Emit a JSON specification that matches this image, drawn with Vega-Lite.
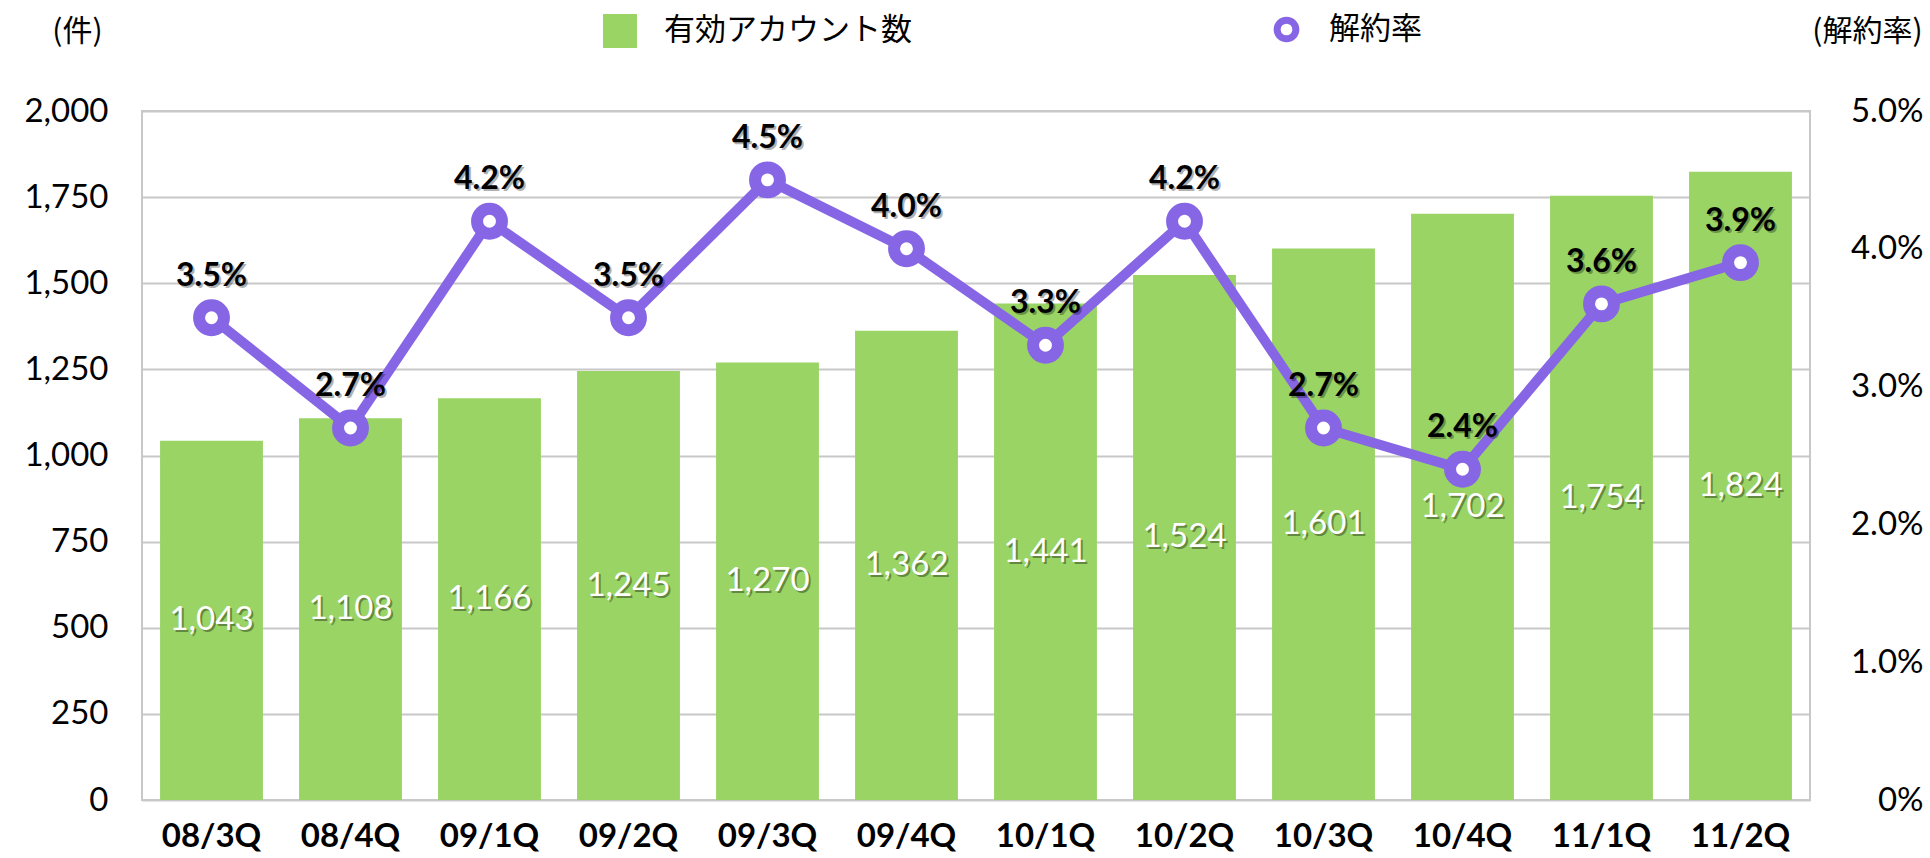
{
  "$schema": "https://vega.github.io/schema/vega-lite/v6.json",
  "autosize": {"type": "none"},
  "width": 1668,
  "height": 689,
  "padding": {"left": 142, "top": 111, "right": 120, "bottom": 58},
  "background": "white",
  "config": {
    "view": {"stroke": "#C8C8C8", "strokeWidth": 2},
    "font": "Lato",
    "axis": {"labelFont": "Lato", "labelColor": "black", "titleFont": "Noto Sans CJK JP", "titleColor": "black", "titleFontWeight": "normal"},
    "legend": {"labelFont": "Noto Sans CJK JP", "labelColor": "black", "padding": 0, "labelLimit": 600}
  },
  "data": {
    "values": [
      {"q": "08/3Q", "accounts": 1043, "rate": 0.035},
      {"q": "08/4Q", "accounts": 1108, "rate": 0.027},
      {"q": "09/1Q", "accounts": 1166, "rate": 0.042},
      {"q": "09/2Q", "accounts": 1245, "rate": 0.035},
      {"q": "09/3Q", "accounts": 1270, "rate": 0.045},
      {"q": "09/4Q", "accounts": 1362, "rate": 0.040},
      {"q": "10/1Q", "accounts": 1441, "rate": 0.033},
      {"q": "10/2Q", "accounts": 1524, "rate": 0.042},
      {"q": "10/3Q", "accounts": 1601, "rate": 0.027},
      {"q": "10/4Q", "accounts": 1702, "rate": 0.024},
      {"q": "11/1Q", "accounts": 1754, "rate": 0.036},
      {"q": "11/2Q", "accounts": 1824, "rate": 0.039}
    ]
  },
  "encoding": {
    "x": {
      "field": "q", "type": "nominal", "sort": null,
      "scale": {"paddingInner": 0.26, "paddingOuter": 0.13},
      "axis": {"title": null, "labelAngle": 0, "labelFontSize": 33, "labelFontWeight": "bold", "labelPadding": 20, "domain": false, "ticks": false, "grid": false}
    }
  },
  "layer": [
    {
      "mark": {"type": "bar"},
      "encoding": {
        "y": {
          "field": "accounts", "type": "quantitative",
          "scale": {"domain": [0, 2000], "nice": false},
          "axis": {
            "values": [0, 250, 500, 750, 1000, 1250, 1500, 1750, 2000],
            "format": ",d", "labelFontSize": 33, "labelPadding": 34,
            "domain": false, "ticks": false,
            "grid": true, "gridColor": "#C8C8C8", "gridWidth": 2,
            "title": "(件)", "titleAngle": 0, "titleFontSize": 30,
            "titleX": -65, "titleY": -80, "titleAlign": "center", "titleBaseline": "middle"
          }
        },
        "color": {
          "datum": "有効アカウント数",
          "scale": {"range": ["#9AD464"]},
          "legend": {
            "orient": "none", "legendX": 461, "legendY": -97, "title": null,
            "symbolType": "square", "symbolSize": 1156, "symbolStrokeWidth": 0,
            "labelFontSize": 31, "labelOffset": 27, "labelLimit": 600
          }
        }
      }
    },
    {
      "mark": {"type": "text", "color": "black", "opacity": 0.35, "fontSize": 33, "dx": 2, "dy": 2, "baseline": "middle"},
      "encoding": {
        "y": {"field": "accounts", "type": "quantitative", "scale": {"domain": [0, 4000], "nice": false}, "axis": null},
        "text": {"field": "accounts", "type": "quantitative", "format": ",d"}
      }
    },
    {
      "mark": {"type": "text", "color": "white", "fontSize": 33, "baseline": "middle"},
      "encoding": {
        "y": {"field": "accounts", "type": "quantitative", "scale": {"domain": [0, 4000], "nice": false}, "axis": null},
        "text": {"field": "accounts", "type": "quantitative", "format": ",d"}
      }
    },
    {
      "mark": {"type": "line", "strokeWidth": 10},
      "encoding": {
        "y": {
          "field": "rate", "type": "quantitative",
          "scale": {"domain": [0, 0.05], "nice": false},
          "axis": {
            "orient": "right",
            "values": [0, 0.01, 0.02, 0.03, 0.04, 0.05],
            "labelExpr": "datum.value == 0 ? '0%' : format(datum.value, '.1%')",
            "labelFontSize": 33, "labelPadding": 113, "labelAlign": "right",
            "domain": false, "ticks": false, "grid": false,
            "title": "(解約率)", "titleAngle": 0, "titleFontSize": 30,
            "titleX": 57, "titleY": -80, "titleAlign": "center", "titleBaseline": "middle"
          }
        },
        "stroke": {
          "datum": "解約率",
          "scale": {"range": ["#8766E6"]},
          "legend": {
            "orient": "none", "legendX": 1129, "legendY": -97, "title": null,
            "symbolType": "circle", "symbolSize": 350, "symbolStrokeWidth": 7,
            "symbolFillColor": "white", "symbolStrokeColor": "#8766E6",
            "labelFontSize": 31, "labelOffset": 27, "labelLimit": 600
          }
        }
      }
    },
    {
      "mark": {"type": "point", "filled": false, "fill": "white", "fillOpacity": 1, "stroke": "#8766E6", "strokeWidth": 12, "size": 620, "opacity": 1},
      "encoding": {
        "y": {"field": "rate", "type": "quantitative", "scale": {"domain": [0, 0.05], "nice": false}, "axis": null}
      }
    },
    {
      "mark": {"type": "text", "color": "black", "opacity": 0.3, "fontSize": 32, "fontWeight": "bold", "dx": 2, "dy": -40, "baseline": "middle"},
      "encoding": {
        "y": {"field": "rate", "type": "quantitative", "scale": {"domain": [0, 0.05], "nice": false}, "axis": null},
        "text": {"field": "rate", "type": "quantitative", "format": ".1%"}
      }
    },
    {
      "mark": {"type": "text", "color": "black", "fontSize": 32, "fontWeight": "bold", "dy": -42, "baseline": "middle"},
      "encoding": {
        "y": {"field": "rate", "type": "quantitative", "scale": {"domain": [0, 0.05], "nice": false}, "axis": null},
        "text": {"field": "rate", "type": "quantitative", "format": ".1%"}
      }
    }
  ],
  "resolve": {"scale": {"y": "independent"}}
}
